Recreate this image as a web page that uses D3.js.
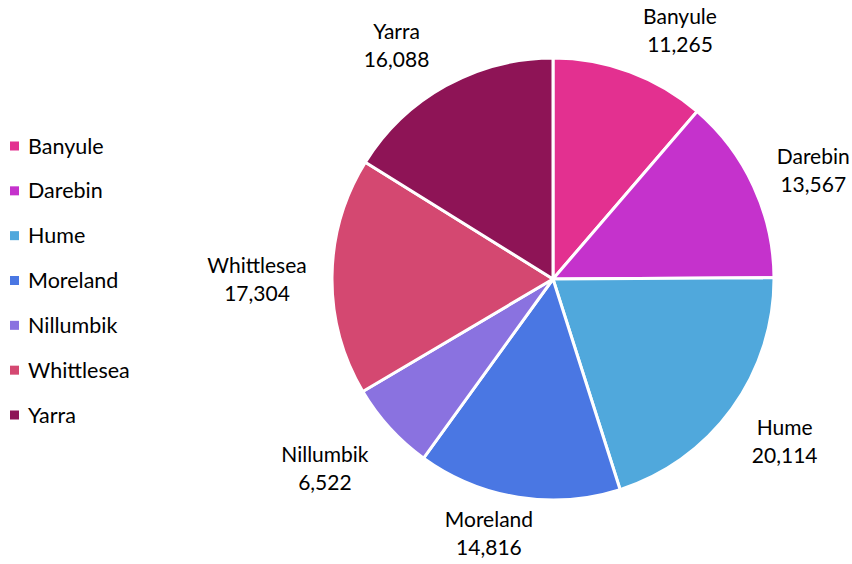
<!DOCTYPE html>
<html><head><meta charset="utf-8">
<script src="https://cdn.jsdelivr.net/npm/d3@7"></script>
<style>body{margin:0;background:#fff}text{font-family:Lato,"Open Sans",sans-serif;fill:#000}</style>
</head><body><svg id="c" width="852" height="564"></svg>
<script>
const categories = ["Banyule","Darebin","Hume","Moreland","Nillumbik","Whittlesea","Yarra"];
const values = [11265,13567,20114,14816,6522,17304,16088];
const colors = ["#E33090","#C532CC","#50A8DC","#4A77E3","#8A72E0","#D44871","#8E1456"];
// label nudges (layout only)
const nudge = [[30,14],[7,9],[6,-1],[-20,-20],[-22,2],[-17,4],[-21,11]];

const svg = d3.select("#c");
const cx = 553, cy = 279, r = 221;
const data = categories.map((c,i)=>({name:c,value:values[i],color:colors[i],i}));
const pie = d3.pie().sort(null).value(d=>d.value);
const arcs = pie(data);
const arc = d3.arc().innerRadius(0).outerRadius(r);
const g = svg.append("g").attr("transform",`translate(${cx},${cy})`);
g.selectAll("path").data(arcs).join("path")
  .attr("d",arc).attr("fill",d=>d.data.color)
  .attr("stroke","#fff").attr("stroke-width",3).attr("stroke-linejoin","round");
const fmt = d3.format(",");
const lr = r + 58;
arcs.forEach(a=>{
  const m = (a.startAngle+a.endAngle)/2;
  const x = Math.sin(m)*lr + nudge[a.index][0];
  const y = -Math.cos(m)*lr + nudge[a.index][1];
  const t = g.append("text").attr("text-anchor","middle").attr("font-size",21);
  t.append("tspan").attr("x",x).attr("y",y-14+7).text(a.data.name);
  t.append("tspan").attr("x",x).attr("y",y+14+7).text(fmt(a.data.value));
});
// legend
const ly = d3.scalePoint().domain(categories).range([146,415]);
const lg = svg.append("g");
categories.forEach((c,i)=>{
  lg.append("rect").attr("x",10).attr("y",ly(c)-4.5).attr("width",9).attr("height",9).attr("fill",colors[i]);
  lg.append("text").attr("x",28).attr("y",ly(c)+7.5).attr("font-size",21.5).text(c);
});
</script></body></html>
